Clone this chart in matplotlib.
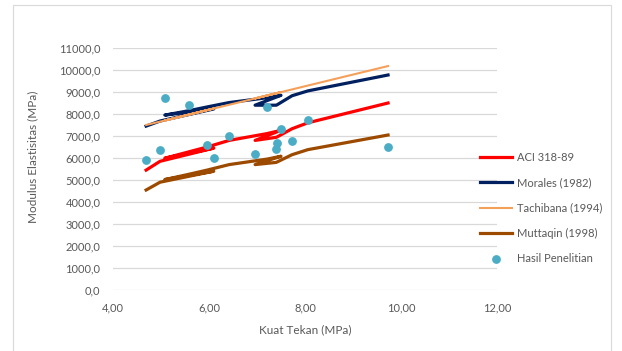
import matplotlib
matplotlib.use("Agg")
import matplotlib.pyplot as plt
from matplotlib.ticker import FuncFormatter, MultipleLocator
from matplotlib.patches import Rectangle

# data, in the order the rows were plotted (lines join rows in this order)
kuat_tekan = [4.69, 4.98, 6.10, 5.08, 5.58, 5.96, 6.42, 7.21, 7.50, 6.96, 7.40, 7.42, 7.73, 8.06, 9.73]
hasil_penelitian = [5909, 6364, 6000, 8727, 8409, 6591, 7000, 8318, 7318, 6182, 6409, 6682, 6773, 7727, 6500]
aci = [5450, 5850, 6450, 5990, 6280, 6500, 6800, 7110, 7260, 6800, 6940, 6960, 7330, 7600, 8500]
morales = [7450, 7680, 8230, 7950, 8150, 8320, 8520, 8740, 8850, 8400, 8400, 8420, 8830, 9050, 9773]
tachibana = [7500, 7654, 8250, 7707, 7973, 8176, 8420, 8841, 8995, 8708, 8942, 8952, 9117, 9293, 10180]
muttaqin = [4545, 4900, 5400, 5020, 5260, 5450, 5700, 5950, 6080, 5700, 5800, 5820, 6150, 6380, 7045]

plt.rcParams['font.family'] = ['Lato', 'DejaVu Sans']

W, H = 622, 351
fig = plt.figure(figsize=(W / 100, H / 100), dpi=100)
ax = fig.add_axes([113 / W, 1 - 290 / H, (497 - 113) / W, (290 - 48) / H])

# chart area border
fig.patches.append(Rectangle((13 / W, -0.01), 598 / W, 1 - 5 / H + 0.01, transform=fig.transFigure,
                             fill=False, edgecolor='#d9d9d9', linewidth=0.8))

ax.plot(kuat_tekan, aci, color='#ff0000', lw=2.3, label='ACI 318-89', solid_joinstyle='round')
ax.plot(kuat_tekan, morales, color='#002060', lw=2.3, label='Morales (1982)', solid_joinstyle='round')
ax.plot(kuat_tekan, tachibana, color='#f4a05a', lw=1.5, label='Tachibana (1994)', solid_joinstyle='round')
ax.plot(kuat_tekan, muttaqin, color='#9c4a00', lw=2.3, label='Muttaqin (1998)', solid_joinstyle='round')
ax.scatter(kuat_tekan, hasil_penelitian, s=28, color='#4bacc6', zorder=5, label='Hasil Penelitian')

ax.set_xlim(4, 12)
ax.set_ylim(0, 11000)
ax.xaxis.set_major_locator(MultipleLocator(2))
ax.yaxis.set_major_locator(MultipleLocator(1000))
ax.xaxis.set_major_formatter(FuncFormatter(lambda v, p: f'{v:.2f}'.replace('.', ',')))
ax.yaxis.set_major_formatter(FuncFormatter(lambda v, p: f'{v:.1f}'.replace('.', ',')))
ax.grid(axis='y', color='#d9d9d9', lw=0.9)
ax.set_axisbelow(True)
for s in ax.spines.values():
    s.set_visible(False)
ax.tick_params(length=0, labelsize=8, colors='#595959')
ax.tick_params(axis='y', pad=9)
ax.tick_params(axis='x', pad=9)

ax.set_xlabel('Kuat Tekan (MPa)', fontsize=8.5, color='#595959', labelpad=8)
ax.set_ylabel('Modulus Elastisitas (MPa)', fontsize=8.5, color='#595959')
ax.yaxis.set_label_coords(-0.195, 0.55)

leg = ax.legend(loc='upper left', bbox_to_anchor=((474 - 113) / 384, (290 - 146) / 242),
                frameon=False, fontsize=8, handlelength=2.9, handletextpad=0.45,
                labelspacing=1.3, borderpad=0, labelcolor='#595959')

fig.savefig('out.png', dpi=100)
